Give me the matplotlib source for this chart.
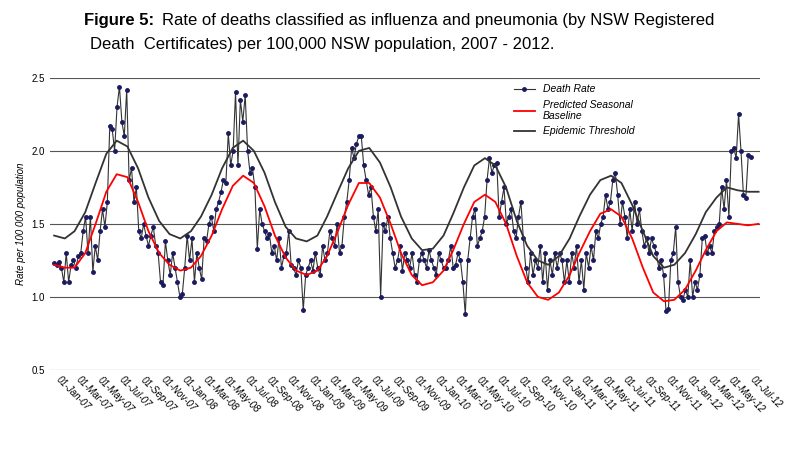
import matplotlib.pyplot as plt
import matplotlib.dates as mdates
import numpy as np

plt.rcParams['font.family'] = ['Liberation Sans', 'DejaVu Sans']

# 주간 사망률 (2007-01-01 부터 매주)
death_rate = [
    1.23,1.22,1.24,1.20,1.10,1.30,1.10,1.22,1.25,1.20,1.28,1.30,1.45,1.55,1.30,1.55,1.17,1.35,1.25,1.45,1.60,1.48,1.65,2.17,2.15,2.00,
    2.30,2.44,2.20,2.10,2.42,1.80,1.88,1.65,1.75,1.45,1.40,1.50,1.42,1.35,1.42,1.48,1.35,1.30,1.10,1.08,1.38,1.25,1.15,1.30,1.20,1.10,
    1.00,1.02,1.20,1.42,1.25,1.40,1.10,1.30,1.20,1.12,1.40,1.38,1.50,1.55,1.45,1.60,1.65,1.72,1.80,1.78,2.12,1.90,2.00,2.40,1.90,2.35,
    2.20,2.38,2.00,1.85,1.88,1.75,1.33,1.60,1.50,1.45,1.40,1.43,1.30,1.35,1.25,1.40,1.20,1.28,1.30,1.45,1.22,1.20,1.15,1.25,1.20,0.91,
    1.15,1.20,1.25,1.18,1.30,1.20,1.15,1.35,1.25,1.30,1.45,1.40,1.35,1.50,1.30,1.35,1.55,1.65,1.80,2.02,1.95,2.05,2.10,2.10,1.90,1.80,
    1.70,1.75,1.55,1.45,1.60,1.00,1.50,1.45,1.55,1.40,1.30,1.20,1.25,1.35,1.18,1.30,1.25,1.20,1.30,1.15,1.10,1.25,1.30,1.25,1.20,1.32,
    1.25,1.20,1.15,1.30,1.25,1.20,1.20,1.25,1.35,1.20,1.22,1.30,1.25,1.10,0.88,1.25,1.40,1.55,1.60,1.35,1.40,1.45,1.55,1.80,1.95,1.85,
    1.90,1.92,1.55,1.65,1.75,1.50,1.55,1.60,1.45,1.40,1.55,1.65,1.40,1.20,1.10,1.30,1.15,1.25,1.20,1.35,1.10,1.30,1.05,1.25,1.15,1.30,
    1.20,1.30,1.25,1.10,1.25,1.10,1.30,1.20,1.35,1.10,1.25,1.05,1.30,1.20,1.35,1.25,1.45,1.40,1.50,1.55,1.70,1.60,1.65,1.80,1.85,1.70,
    1.50,1.65,1.55,1.40,1.60,1.45,1.65,1.50,1.60,1.45,1.35,1.40,1.30,1.40,1.35,1.30,1.20,1.25,1.15,0.90,0.92,1.25,1.30,1.48,1.10,1.00,
    0.98,1.05,1.00,1.25,1.00,1.10,1.05,1.15,1.40,1.42,1.30,1.35,1.30,1.45,1.48,1.50,1.75,1.60,1.80,1.55,2.00,2.02,1.95,2.25,2.00,1.70,
    1.68,1.97,1.96]
weeks = np.datetime64('2007-01-01') + np.arange(len(death_rate)) * np.timedelta64(7, 'D')

# 월별 기준선 및 유행 임계값
baseline = [1.22,1.20,1.20,1.30,1.50,1.72,1.84,1.82,1.65,1.45,1.30,1.22,
            1.18,1.20,1.28,1.42,1.60,1.76,1.83,1.78,1.62,1.42,1.27,1.18,
            1.15,1.18,1.28,1.45,1.63,1.78,1.78,1.68,1.50,1.30,1.15,1.08,
            1.10,1.18,1.32,1.50,1.65,1.70,1.65,1.50,1.28,1.10,1.00,0.98,
            1.03,1.15,1.30,1.45,1.57,1.60,1.55,1.40,1.20,1.03,0.97,0.98,
            1.05,1.18,1.32,1.45,1.51,1.50,1.49,1.50]
threshold = [1.42,1.40,1.45,1.58,1.78,1.98,2.07,2.03,1.88,1.68,1.52,1.43,
             1.40,1.45,1.55,1.70,1.88,2.02,2.07,2.00,1.85,1.65,1.48,1.40,
             1.38,1.42,1.55,1.72,1.88,2.00,2.02,1.92,1.75,1.55,1.40,1.32,
             1.33,1.42,1.57,1.75,1.90,1.95,1.90,1.75,1.52,1.35,1.25,1.22,
             1.28,1.40,1.55,1.70,1.80,1.83,1.78,1.63,1.45,1.28,1.20,1.22,
             1.30,1.43,1.58,1.68,1.75,1.73,1.72,1.72]
months = np.arange(np.datetime64('2007-01'), np.datetime64('2012-09')).astype('datetime64[D]')

# 그래프 그리기
fig = plt.figure(figsize=(8, 4.5), dpi=100)
ax = fig.add_axes([0.0625, 0.178, 0.8875, 0.649])

ax.plot(weeks, death_rate, '-o', color='#333333', linewidth=0.8, markersize=2.5,
        markerfacecolor='#1a1a5e', markeredgecolor='#1a1a5e', label='Death Rate')
ax.plot(months, baseline, color='red', linewidth=1.3, label='Predicted Seasonal\nBaseline')
ax.plot(months, threshold, color='#333333', linewidth=1.3, label='Epidemic Threshold')

ax.set_ylim([0.5, 2.5])
ax.set_yticks(np.arange(0.5, 2.51, 0.5))
ax.set_xlim([np.datetime64('2006-12-20'), np.datetime64('2012-08-05')])
ax.set_xticks(np.arange(np.datetime64('2007-01'), np.datetime64('2012-08'), 2).astype('datetime64[D]'))
ax.xaxis.set_major_formatter(mdates.DateFormatter('%d-%b-%y'))
ax.tick_params(axis='x', labelsize=7, labelrotation=-45, length=0)
ax.tick_params(axis='y', labelsize=7, length=0)
for lab in ax.get_xticklabels():
    lab.set_ha('left')
    lab.set_fontstyle('italic')
ax.grid(True, axis='y', color='#555555', linewidth=0.8)
for s in ax.spines.values():
    s.set_visible(False)
ax.set_ylabel('Rate per 100 000 population', fontsize=7, fontstyle='italic')
ax.legend(loc='upper left', bbox_to_anchor=(0.64, 1.01), frameon=True, fancybox=False,
          edgecolor='white', prop={'style': 'italic', 'size': 7.5})

fig.text(0.105, 0.945, 'Figure 5:', fontsize=12, fontweight='bold')
fig.text(0.202, 0.945, 'Rate of deaths classified as influenza and pneumonia (by NSW Registered', fontsize=12)
fig.text(0.112, 0.89, 'Death  Certificates) per 100,000 NSW population, 2007 - 2012.', fontsize=12)

plt.savefig('out.png')
